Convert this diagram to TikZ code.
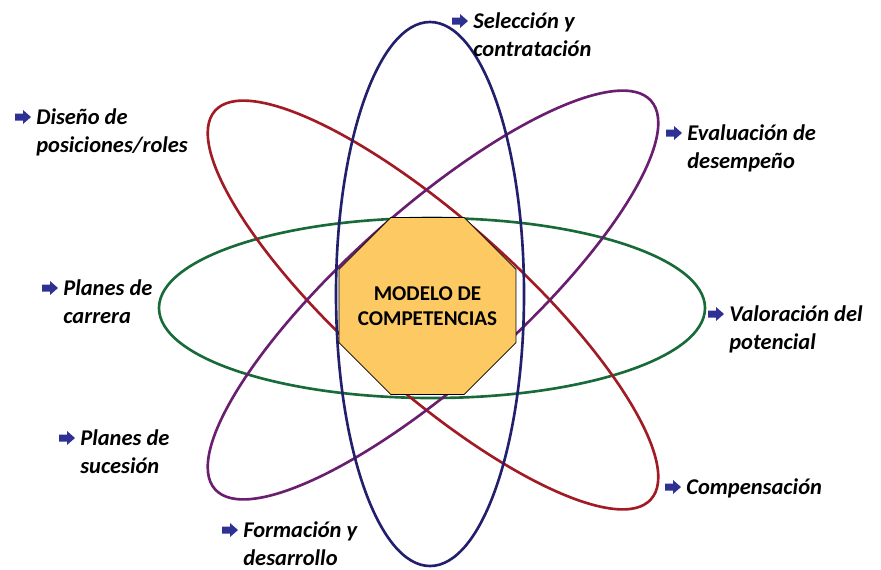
\documentclass[tikz,border=0pt]{standalone}
\usepackage{fontspec}
\setmainfont{Carlito}
\usetikzlibrary{shapes.geometric, calc}

\definecolor{azulosc}{HTML}{22206C}
\definecolor{rojoosc}{HTML}{A11B24}
\definecolor{morado}{HTML}{6A1E70}
\definecolor{verdeosc}{HTML}{186B38}
\definecolor{flechaazul}{HTML}{2E3192}
\definecolor{naranja}{HTML}{FDC962}

\begin{document}
\begin{tikzpicture}[x=0.02cm, y=-0.02cm,
  orbita/.style={line width=1.5pt},
  etiqueta/.style={anchor=base west, align=left, inner sep=0pt,
    font=\fontsize{12.8}{15.9}\selectfont\bfseries\itshape},
  flecha/.pic={\fill[flechaazul] (-16,-3.5) -- (-8,-3.5) -- (-8,-7) -- (0,0)
    -- (-8,7) -- (-8,3.5) -- (-16,3.5) -- cycle;}]

\useasboundingbox (0,0) rectangle (881,569);

% orbitas
\draw[orbita, verdeosc] (432,308) ellipse [x radius=273, y radius=90];
\draw[orbita, rojoosc, rotate around={-41.7:(433,305)}] (433,305) ellipse [x radius=292, y radius=85];
\draw[orbita, morado, rotate around={41.7:(433,295)}] (433,295) ellipse [x radius=292, y radius=85];
\draw[orbita, azulosc] (430,294) ellipse [x radius=94, y radius=272];

% nucleo
\node[regular polygon, regular polygon sides=8, minimum size=3.83cm, inner sep=0pt,
  draw=black, line width=0.4pt, fill=naranja, align=center,
  font=\fontsize{12}{14.2}\selectfont\bfseries] (modelo) at (427.5,306)
  {\makebox[0pt]{MODELO DE}\\\makebox[0pt]{COMPETENCIAS}};

% etiquetas (ancla en la linea base de la ultima linea)
\node[etiqueta] (seleccion) at (473,56) {Selección y\\contratación};
\node[etiqueta] (diseno) at (36,152) {Diseño de\\posiciones/roles};
\node[etiqueta] (evaluacion) at (687,168) {Evaluación de\\desempeño};
\node[etiqueta] (carrera) at (63,323) {Planes de\\carrera};
\node[etiqueta] (valoracion) at (729,349) {Valoración del\\potencial};
\node[etiqueta] (sucesion) at (80,473) {Planes de\\sucesión};
\node[etiqueta] (compensacion) at (686,494) {Compensación};
\node[etiqueta] (formacion) at (243,565) {Formación y\\desarrollo};

% flechas
\foreach \e in {seleccion, diseno, evaluacion, carrera, valoracion, sucesion, formacion}
  \pic at ($(\e.base west)+(-5,-35)$) {flecha};
\pic at ($(compensacion.base west)+(-5,-7)$) {flecha};

\end{tikzpicture}
\end{document}
